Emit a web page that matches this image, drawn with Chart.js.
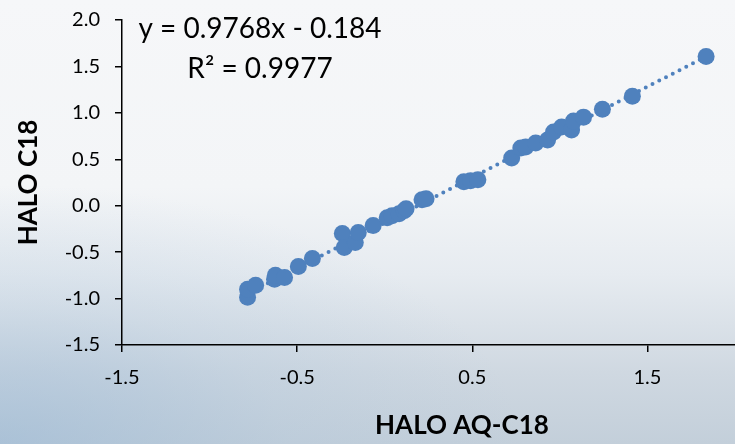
<!DOCTYPE html>
<html>
<head>
<meta charset="utf-8">
<script src="https://cdn.jsdelivr.net/npm/chart.js@4"></script>
<style>
  html, body { margin: 0; padding: 0; }
  body {
    width: 735px; height: 444px; overflow: hidden;
    background:
      radial-gradient(ellipse 520px 260px at 0% 100%, rgba(150,182,212,0.55) 0%, rgba(170,195,218,0.25) 55%, rgba(200,210,222,0) 100%),
      linear-gradient(to bottom, #f6f7f9 0%, #f3f5f7 42%, #e6ebf0 62%, #cfd8e1 84%, #c3cfda 100%);
  }
  #wrap { position: relative; width: 735px; height: 444px; }
</style>
</head>
<body>
<div id="wrap"><canvas id="scatterChart" width="735" height="444"></canvas></div>
<script>
var xValues = [
  -0.783, -0.783, -0.737, -0.629, -0.624, -0.572, -0.493, -0.413,
  -0.242, -0.231, -0.168, -0.151, -0.066, 0.014, 0.042, 0.082, 0.111, 0.122,
  0.213, 0.236, 0.452, 0.49, 0.532,
  0.725, 0.777, 0.805, 0.862, 0.930, 0.964, 1.010, 1.067, 1.078, 1.135,
  1.243, 1.414, 1.835
];
var yValues = [
  -0.986, -0.900, -0.857, -0.793, -0.750, -0.772, -0.654, -0.568,
  -0.300, -0.450, -0.397, -0.289, -0.214, -0.129, -0.107, -0.086, -0.054, -0.032,
  0.064, 0.075, 0.257, 0.268, 0.279,
  0.514, 0.622, 0.632, 0.675, 0.707, 0.793, 0.847, 0.815, 0.911, 0.954,
  1.040, 1.179, 1.608
];
var trendSlope = 0.9768;
var trendIntercept = -0.184;
var xTickValues = [-1.5, -0.5, 0.5, 1.5];
var equationLines = ["y = 0.9768x - 0.184", "R\u00B2 = 0.9977"];

var points = xValues.map(function (x, i) { return { x: x, y: yValues[i] }; });
var xMin = Math.min.apply(null, xValues);
var xMax = Math.max.apply(null, xValues);
var trend = [
  { x: xMin, y: trendSlope * xMin + trendIntercept },
  { x: xMax, y: trendSlope * xMax + trendIntercept }
];

var fontFamily = "Lato, 'Open Sans', sans-serif";

// trendline label and x title, placed like the Excel chart
var textPlugin = {
  id: "textPlugin",
  afterDraw: function (chart) {
    var c = chart.ctx;
    c.save();
    c.fillStyle = "#000";
    c.textAlign = "center";
    c.textBaseline = "middle";
    c.font = "28px " + fontFamily;
    c.fillText(equationLines[0], 260, 29);
    c.fillText(equationLines[1], 260, 69);
    c.font = "bold 26px " + fontFamily;
    c.fillText("HALO AQ-C18", 462, 426);
    c.restore();
  }
};

var ctx = document.getElementById("scatterChart").getContext("2d");

var myChart = new Chart(ctx, {
  type: "scatter",
  data: {
    datasets: [
      {
        label: "HALO",
        data: points,
        backgroundColor: "#4F81BD",
        borderColor: "#4F81BD",
        pointRadius: 8.5,
        pointHoverRadius: 8.5,
        borderWidth: 0,
      },
      {
        type: "line",
        label: "Trend",
        data: trend,
        borderColor: "#4F81BD",
        borderWidth: 4,
        borderDash: [0, 7.6],
        borderCapStyle: "round",
        pointRadius: 0,
        fill: false,
      },
    ],
  },
  options: {
    responsive: false,
    animation: false,
    layout: { autoPadding: false, padding: { top: 20, right: 0, bottom: 0, left: 0 } },
    plugins: {
      legend: { display: false },
      tooltip: { enabled: false },
    },
    scales: {
      x: {
        type: "linear",
        min: -1.5,
        max: 2.0,
        afterBuildTicks: function (axis) {
          axis.ticks = xTickValues.map(function (v) { return { value: v }; });
        },
        afterFit: function (axis) {
          axis.height = 99;
          axis.paddingLeft = 0;
          axis.paddingRight = 0;
        },
        grid: { drawOnChartArea: false, drawTicks: true, tickLength: 7, color: "#000", lineWidth: 1.5 },
        border: { display: true, color: "#000", width: 1.5 },
        ticks: {
          color: "#000",
          padding: 14,
          maxRotation: 0,
          font: { family: fontFamily, size: 20 },
          callback: function (v) { return v.toFixed(1); },
        },
        title: { display: false },
      },
      y: {
        type: "linear",
        min: -1.5,
        max: 2.0,
        afterFit: function (axis) {
          axis.width = 122;
          axis.paddingTop = 0;
          axis.paddingBottom = 0;
        },
        grid: { drawOnChartArea: false, drawTicks: true, tickLength: 7, color: "#000", lineWidth: 1.5 },
        border: { display: true, color: "#000", width: 1.5 },
        ticks: {
          stepSize: 0.5,
          color: "#000",
          padding: 15,
          font: { family: fontFamily, size: 20 },
          callback: function (v) { return v.toFixed(1); },
        },
        title: {
          display: true,
          text: "HALO C18",
          color: "#000",
          padding: { top: 13, bottom: 0 },
          font: { family: fontFamily, size: 26, weight: "bold" },
        },
      },
    },
  },
  plugins: [textPlugin],
});
</script>
</body>
</html>
